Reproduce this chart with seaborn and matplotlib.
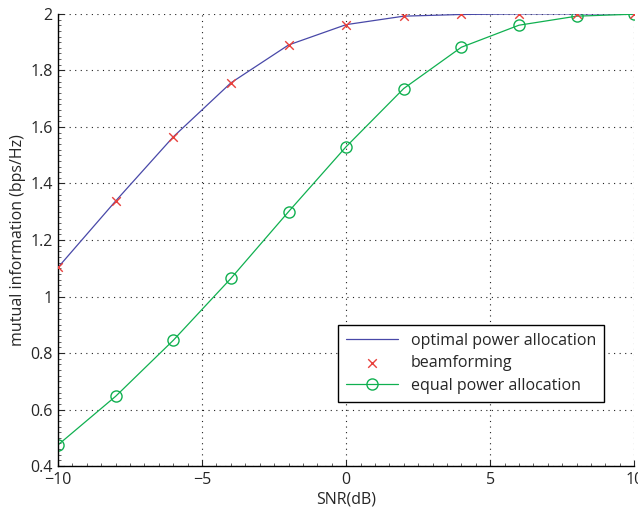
import matplotlib
matplotlib.use("Agg")
import numpy as np
import pandas as pd
import seaborn as sns
from matplotlib import pyplot as plt
from matplotlib.ticker import AutoMinorLocator

# SNR grid (dB)
snr_db = [-10, -8, -6, -4, -2, 0, 2, 4, 6, 8, 10]
# mutual information (bps/Hz)
optimal_power = [1.103, 1.338, 1.565, 1.756, 1.890, 1.962, 1.992, 1.998, 2.0, 2.0, 2.0]
beamforming = [1.103, 1.338, 1.565, 1.756, 1.890, 1.962, 1.992, 1.998, 2.0, 2.0, 2.0]
equal_power = [0.475, 0.647, 0.845, 1.064, 1.300, 1.530, 1.736, 1.882, 1.960, 1.992, 1.999]

blue = "#4848a8"
red = "#e8403c"
green = "#10b050"

sns.set_style("ticks")
plt.rcParams["font.family"] = ["Open Sans", "DejaVu Sans"]
plt.rcParams["font.size"] = 11.5

df = pd.DataFrame(
    {
        "snr": snr_db,
        "optimal": optimal_power,
        "beam": beamforming,
        "equal": equal_power,
    }
)

fig = plt.figure(figsize=(6.38, 5.15), dpi=100)
ax = fig.add_axes([0.091, 0.095, 0.903, 0.878])

sns.lineplot(data=df, x="snr", y="optimal", color=blue, linewidth=0.9,
             label="optimal power allocation", ax=ax)
sns.lineplot(data=df, x="snr", y="equal", color=green, linewidth=0.9,
             marker="o", markersize=8, markerfacecolor="none",
             markeredgecolor=green, markeredgewidth=1.0,
             label="equal power allocation", ax=ax)
sns.scatterplot(data=df, x="snr", y="beam", color=red, marker="x", s=38,
                linewidth=1.0, label="beamforming", ax=ax, zorder=5)

ax.set_xlim(-10, 10)
ax.set_ylim(0.4, 2.0)
ax.set_xticks([-10, -5, 0, 5, 10])
ax.set_xticklabels(["\u221210", "\u22125", "0", "5", "10"])
ax.set_yticks([0.4, 0.6, 0.8, 1.0, 1.2, 1.4, 1.6, 1.8, 2.0])
ax.set_yticklabels(["0.4", "0.6", "0.8", "1", "1.2", "1.4", "1.6", "1.8", "2"])
ax.xaxis.set_minor_locator(AutoMinorLocator(10))
ax.yaxis.set_minor_locator(AutoMinorLocator(10))
ax.tick_params(which="major", direction="in", length=4, width=0.8, pad=4)
ax.tick_params(which="minor", direction="in", length=2, width=0.5)

ax.grid(True, which="major", linestyle=(0, (1, 4)), color="#222222",
        linewidth=0.8)
for side in ["top", "right"]:
    ax.spines[side].set_visible(False)
for side in ["left", "bottom"]:
    ax.spines[side].set_linewidth(1.0)
    ax.spines[side].set_color("black")

ax.set_xlabel("SNR(dB)", labelpad=3)
ax.set_ylabel("mutual information (bps/Hz)", labelpad=3)

handles, labels = ax.get_legend_handles_labels()
order = [labels.index(n) for n in
         ["optimal power allocation", "beamforming", "equal power allocation"]]
leg = ax.legend([handles[i] for i in order], [labels[i] for i in order],
                loc="lower right", bbox_to_anchor=(0.962, 0.125),
                frameon=True, fancybox=False, framealpha=1,
                edgecolor="black", handlelength=3.3, borderpad=0.5,
                labelspacing=0.4, fontsize=11.5)
leg.get_frame().set_linewidth(1.0)

fig.savefig("out.png", dpi=100)
